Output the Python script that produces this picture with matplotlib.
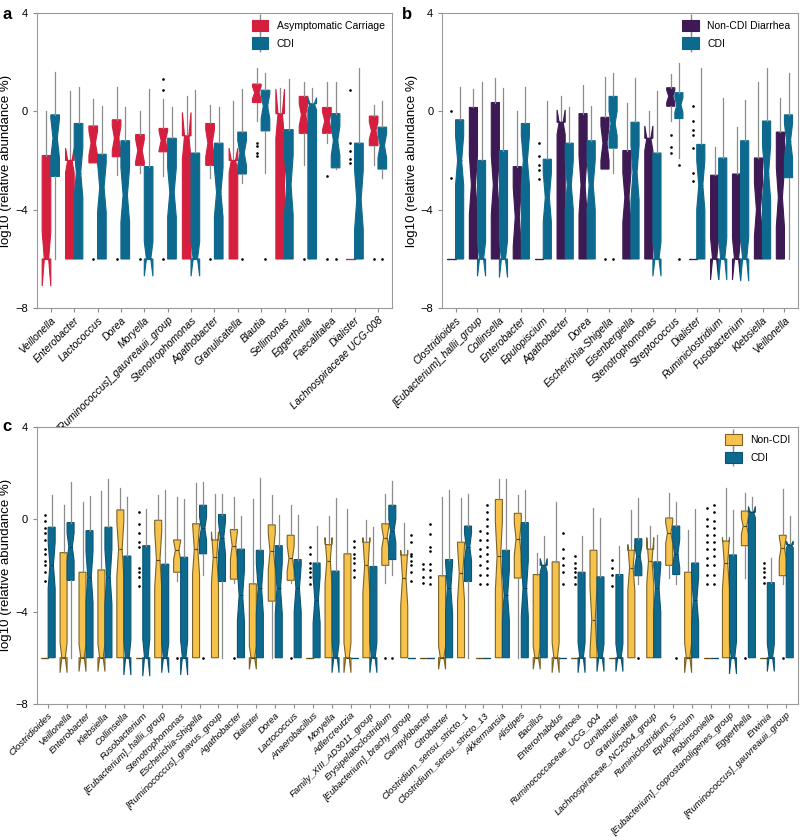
import matplotlib.pyplot as plt
from matplotlib.patches import Patch
from matplotlib.lines import Line2D

plt.rcParams['font.family'] = ['Liberation Sans', 'DejaVu Sans']

# ---------------- panel a: Asymptomatic Carriage vs CDI ----------------
a_taxa = ['Veillonella', 'Enterobacter', 'Lactococcus', 'Dorea', 'Moryella',
          '[Ruminococcus]_gauvreauii_group', 'Stenotrophomonas', 'Agathobacter',
          'Granulicatella', 'Blautia', 'Sellimonas', 'Eggerthella', 'Faecalitalea',
          'Dialister', 'Lachnospiraceae UCG-008']
a_ac_q1 = [-6, -6, -2.1, -1.85, -2.2, -1.65, -6, -2.2, -6, 0.35, -6, -0.9, -0.9, -6, -1.4]
a_ac_med = [-6, -2.0, -1.3, -1.1, -1.6, -1.2, -1.0, -1.3, -2.0, 0.75, -0.1, -0.15, -0.4, -6, -0.8]
a_ac_q3 = [-1.8, -2.0, -0.6, -0.35, -0.95, -0.7, -1.0, -0.5, -2.0, 1.1, -0.1, 0.6, 0.15, -6, -0.2]
a_ac_lo = [-6, -6, -2.1, -2.6, -2.5, -2.65, -6, -2.7, -6, -0.4, -6, -2.2, -1.3, -6, -2.2]
a_ac_hi = [0.0, 0.8, 0.5, 1.0, 0.0, 0.5, 0.6, 0.25, 0.4, 1.75, 0.95, 1.2, 1.2, -6, 0.25]
a_ac_notch = [1.1, 0.5, 0.5, 0.5, 0.45, 0.4, 0.95, 0.55, 0.5, 0.25, 1.0, 0.45, 0.35, 0, 0.35]
a_ac_fliers = [[], [], [-6], [-6], [-6], [1.3, 0.85, -6], [], [-6], [],
               [-1.3, -1.4, -1.7, -1.8], [], [-6], [-2.65, -6],
               [0.85, -1.3, -1.6, -1.95, -2.1], [-6]]

a_cdi_q1 = [-2.65, -6, -6, -6, -6, -6, -6, -6, -2.55, -0.8, -6, -6, -2.3, -6, -2.35]
a_cdi_med = [-1.1, -2.5, -3.1, -3.4, -6, -3.3, -6, -3.3, -1.7, 0.2, -3.0, 0.3, -1.2, -3.6, -1.4]
a_cdi_q3 = [-0.15, -0.5, -1.75, -1.2, -2.25, -1.1, -1.7, -1.3, -0.85, 0.85, -0.75, 0.3, -0.1, -1.3, -0.65]
a_cdi_lo = [-6, -6, -6, -6, -6, -6, -6, -6, -2.9, -2.5, -6, -6, -2.35, -6, -2.7]
a_cdi_hi = [1.6, 1.0, 0.2, 0.15, 0.9, 0.15, 0.85, 0.15, 0.9, 1.55, 1.3, 0.95, 1.2, 1.75, 0.4]
a_cdi_notch = [0.8, 1.0, 1.0, 1.1, 0.7, 1.0, 0.7, 1.0, 0.5, 0.5, 1.2, 0.25, 0.6, 1.2, 0.5]
a_cdi_fliers = [[], [], [], [], [], [], [], [], [-6], [-6], [], [], [-6], [], [-6]]

# ---------------- panel b: Non-CDI Diarrhea vs CDI ----------------
b_taxa = ['Clostridioides', '[Eubacterium]_hallii_group', 'Collinsella', 'Enterobacter',
          'Epulopiscium', 'Agathobacter', 'Dorea', 'Escherichia-Shigella', 'Eisenbergiella',
          'Stenotrophomonas', 'Streptococcus', 'Dialister', 'Ruminiclostridium',
          'Fusobacterium', 'Klebsiella', 'Veillonella']
b_ncd_q1 = [-6, -6, -6, -6, -6, -6, -6, -2.35, -6, -6, 0.2, -6, -6, -6, -6, -6]
b_ncd_med = [-6, -3.0, -3.0, -4.3, -6, -0.45, -3.0, -1.3, -3.5, -1.1, 0.6, -6, -6, -6, -4.0, -3.5]
b_ncd_q3 = [-6, 0.15, 0.35, -2.25, -6, -0.45, -0.1, -0.25, -1.6, -1.1, 0.95, -6, -2.6, -2.55, -1.9, -0.85]
b_ncd_lo = [-6, -6, -6, -6, -6, -6, -6, -2.35, -6, -6, -0.4, -6, -6, -6, -6, -6]
b_ncd_hi = [-6, 0.9, 1.35, 0.0, -6, 0.6, 1.05, 1.4, 0.35, 0.0, 1.5, -6, -1.45, -0.65, 1.2, 0.55]
b_ncd_notch = [0, 1.2, 1.2, 1.2, 0, 0.5, 1.2, 0.7, 1.0, 0.5, 0.25, 0, 0.85, 0.85, 1.1, 1.2]
b_ncd_fliers = [[0.0, -2.7], [], [], [], [-1.3, -1.8, -2.2, -2.4, -2.75], [], [], [-6], [], [],
                [-0.95, -1.45, -1.7], [0.2, -0.4, -0.75, -0.95, -1.5, -2.5, -2.85], [], [], [], []]

b_cdi_q1 = [-6, -6, -6, -6, -6, -6, -6, -1.5, -6, -6, -0.3, -6, -6, -6, -6, -2.7]
b_cdi_med = [-2.0, -6, -6, -2.0, -3.5, -3.0, -3.0, -0.5, -2.5, -6, 0.25, -3.0, -6, -6, -2.5, -1.2]
b_cdi_q3 = [-0.35, -2.0, -1.6, -0.5, -1.95, -1.3, -1.2, 0.6, -0.45, -1.7, 0.75, -1.35, -1.9, -1.2, -0.4, -0.15]
b_cdi_lo = [-6, -6, -6, -6, -6, -6, -6, -2.5, -6, -6, -1.9, -6, -6, -6, -6, -6]
b_cdi_hi = [1.0, 1.2, 0.95, 1.0, 0.4, 0.15, 0.2, 1.55, 1.35, 0.8, 1.95, 1.75, 0.55, 0.45, 1.75, 1.55]
b_cdi_notch = [1.0, 0.7, 0.75, 1.0, 1.0, 1.0, 1.0, 0.5, 1.1, 0.7, 0.3, 1.0, 0.85, 0.9, 1.1, 0.7]
b_cdi_fliers = [[], [], [], [], [], [], [], [-6], [], [], [-2.2, -6], [], [], [], [], []]

# ---------------- panel c: Non-CDI vs CDI ----------------
c_taxa = ['Clostridioides', 'Veillonella', 'Enterobacter', 'Klebsiella', 'Collinsella',
          'Fusobacterium', '[Eubacterium]_hallii_group', 'Stenotrophomonas',
          'Escherichia-Shigella', '[Ruminococcus]_gnavus_group', 'Agathobacter', 'Dialister',
          'Dorea', 'Lactococcus', 'Anaerobacillus', 'Moryella', 'Adlercreutzia',
          'Family_XIII_AD3011_group', 'Erysipelatoclostridium', '[Eubacterium]_brachy_group',
          'Campylobacter', 'Citrobacter', 'Clostridium_sensu_stricto_1',
          'Clostridium_sensu_stricto_13', 'Akkermansia', 'Alistipes', 'Bacillus',
          'Enterorhabdus', 'Pantoea', 'Ruminococcaceae_UCG_004', 'Curvibacter',
          'Granulicatella', 'Lachnospiraceae_NC2004_group', 'Ruminiclostridium_5',
          'Epulopiscium', 'Robinsoniella', '[Eubacterium]_coprostanoligenes_group',
          'Eggerthella', 'Erwinia', '[Ruminococcus]_gauvreauii_group']
c_nc_q1 = [-6, -6, -6, -6, -6, -6, -6, -2.3, -6, -6, -2.6, -6, -3.55, -2.65, -6, -6, -6, -6, -2.0, -6,
           -6, -6, -6, -6, -6, -2.55, -6, -6, -6, -6, -6, -6, -6, -2.0, -6, -6, -6, -1.15, -6, -2.45]
c_nc_med = [-6, -6, -6, -6, -1.3, -6, -1.75, -1.35, -1.3, -1.65, -1.15, -6, -1.4, -1.7, -6, -1.8, -6,
            -2.0, -0.8, -2.55, -6, -6, -2.35, -6, -1.6, -0.85, -6, -6, -6, -4.35, -6, -2.1, -1.8,
            -0.6, -6, -6, -1.9, -0.3, -6, -1.25]
c_nc_q3 = [-6, -1.45, -2.3, -2.2, 0.4, -6, -0.05, -0.9, -0.2, -0.9, -0.45, -2.8, -0.25, -0.7, -6,
           -1.1, -1.5, -1.0, -0.2, -1.55, -6, -2.45, -1.0, -6, 0.85, 0.25, -2.4, -1.85, -6, -1.35,
           -6, -1.35, -1.3, 0.05, -2.3, -6, -0.95, 0.35, -6, -0.7]
c_nc_lo = [-6, -6, -6, -6, -6, -6, -6, -2.7, -6, -6, -2.75, -6, -6, -2.75, -6, -6, -6, -6, -2.75, -6,
           -6, -6, -6, -6, -6, -6, -6, -6, -6, -6, -6, -6, -6, -2.55, -6, -6, -6, -2.55, -6, -2.8]
c_nc_hi = [-6, 0.6, 0.75, 1.2, 1.35, -6, 1.05, 0.95, 1.55, 1.1, 0.95, 0.85, 1.05, 0.6, -6, 0.15, 0.45,
           -0.05, 1.1, -0.15, -6, 0.95, 0.9, -6, 1.75, 1.05, -1.45, 0.75, -6, 0.5, -6, 0.4, -0.3,
           1.15, -0.45, -6, 1.35, 1.15, -6, 1.3]
c_nc_notch = [0, 0.65, 0.6, 0.6, 1.2, 0, 1.2, 0.4, 1.1, 1.1, 0.6, 0.5, 0.8, 0.55, 0, 1.0, 0.65, 1.2,
              0.45, 1.2, 0, 0.5, 1.2, 0, 1.5, 0.7, 0.5, 0.65, 0, 1.4, 0, 1.0, 1.0, 0.45, 0.65, 0,
              1.1, 0.35, 0, 0.5]
c_nc_fliers = [[0.2, -0.1, -0.4, -0.6, -0.9, -1.3, -1.5, -1.8, -2.0, -2.3, -2.7], [], [], [], [],
               [0.3, -0.2, -0.6, -1.0, -1.2, -2.1, -2.3, -2.5, -2.9], [], [-6], [], [], [-6], [], [],
               [-6], [-1.2, -1.5, -1.9, -2.1, -2.3, -2.5, -2.8], [], [], [], [-6], [],
               [-1.95, -2.15, -2.5, -2.75], [], [], [-0.5, -0.9, -1.3, -1.6, -2.0, -2.4, -2.8], [],
               [], [], [], [-1.6, -1.9, -2.1, -2.3, -2.5, -2.8], [], [-1.75, -2.1, -2.4, -2.9], [],
               [], [], [], [0.5, 0.0, -0.3, -0.7, -1.0, -1.3, -1.7, -2.0, -2.4, -2.8], [], [-6],
               [-1.9, -2.1, -2.3, -2.5, -2.75], [-6]]

c_cdi_q1 = [-6, -2.65, -6, -6, -6, -6, -6, -6, -1.5, -2.7, -6, -6, -6, -6, -6, -6, -6, -6, -1.75, -6,
            -6, -6, -2.7, -6, -6, -6, -6, -6, -6, -6, -6, -2.45, -6, -2.4, -6, -6, -6, -6, -6, -6]
c_cdi_med = [-2.0, -1.2, -2.5, -2.5, -6, -6, -6, -6, -0.4, -0.8, -3.3, -3.0, -3.0, -3.0, -3.5, -6, -6,
             -6, -0.5, -6, -6, -3.0, -1.2, -6, -3.3, -3.0, -2.0, -6, -6, -6, -6, -1.6, -3.0, -1.5,
             -3.5, -6, -6, 0.3, -6, -1.1]
c_cdi_q3 = [-0.35, -0.15, -0.5, -0.35, -1.6, -1.15, -1.95, -1.65, 0.6, 0.2, -1.3, -1.35, -1.15,
            -1.75, -1.9, -2.25, -6, -2.05, 0.6, -6, -6, -1.75, -0.3, -6, -1.35, -0.15, -2.0, -6,
            -2.3, -2.5, -2.4, -0.85, -1.85, -0.3, -1.9, -6, -1.55, 0.3, -2.75, -1.1]
c_cdi_lo = [-6, -6, -6, -6, -6, -6, -6, -6, -2.4, -6, -6, -6, -6, -6, -6, -6, -6, -6, -2.4, -6,
            -6, -6, -6, -6, -6, -6, -6, -6, -6, -6, -6, -2.8, -6, -2.8, -6, -6, -6, -6, -6, -6]
c_cdi_hi = [1.05, 1.6, 1.0, 1.75, 0.95, 0.45, 1.25, 0.85, 1.6, 1.1, 0.15, 1.8, 0.2, 0.2, -0.3, 0.9,
            -6, -0.35, 1.65, -6, -6, 1.25, 1.1, -6, 1.75, 1.25, -0.75, -6, -0.75, 0.05, -1.15,
            0.9, -0.7, 0.75, 0.45, -6, 0.4, 0.95, -1.7, 0.15]
c_cdi_notch = [1.0, 0.6, 1.1, 1.2, 0.75, 0.8, 0.65, 0.75, 0.5, 0.7, 1.1, 1.1, 1.1, 1.0, 1.0, 0.65,
               0, 0.65, 0.5, 0, 0, 1.1, 0.6, 0, 1.1, 1.2, 0.3, 0, 0.65, 0.6, 0.6, 0.45, 1.0, 0.6,
               1.0, 0, 0.7, 0.25, 0.6, 0.15]
c_cdi_fliers = [[], [], [], [], [], [], [], [], [-6], [], [], [], [], [], [], [],
                [-0.95, -1.2, -1.5, -1.7, -1.9, -2.2, -2.5], [], [-6],
                [-0.7, -1.0, -1.5, -1.6, -1.8, -2.0, -2.3, -2.7],
                [-0.2, -0.65, -1.2, -1.4, -1.95, -2.2, -2.5, -2.8], [], [],
                [0.6, 0.3, 0.0, -0.3, -0.6, -0.9, -1.2, -1.5, -1.8, -2.1, -2.4, -2.8], [], [], [],
                [-0.6, -1.3, -1.7, -2.0, -2.3, -2.8], [], [], [], [-6], [], [-6], [],
                [0.6, 0.3, -0.1, -0.4, -0.7, -1.0, -1.3, -1.6, -2.0, -2.4, -2.8], [], [], [], []]

RED = '#d41f3f'
BLUE = '#0d6a8e'
PURPLE = '#3d1a53'
YELLOW = '#f7c24b'
GREY = '#8c8c8c'


def make_stats(q1, med, q3, lo, hi, notch, fliers):
    out = []
    for i in range(len(q1)):
        out.append(dict(q1=q1[i], med=med[i], q3=q3[i], whislo=lo[i], whishi=hi[i],
                        cilo=med[i] - notch[i], cihi=med[i] + notch[i], fliers=fliers[i]))
    return out


def draw(ax, st, shift, face, edge, medc):
    pos = [i + 1 + shift for i in range(len(st))]
    ax.bxp(st, positions=pos, widths=0.37, shownotches=True, patch_artist=True,
           showcaps=False, manage_ticks=False,
           boxprops=dict(facecolor=face, edgecolor=edge, linewidth=0.8),
           medianprops=dict(color=medc, linewidth=0.8),
           whiskerprops=dict(color=GREY, linewidth=0.9),
           flierprops=dict(marker='o', markersize=0.9, markerfacecolor='k',
                           markeredgecolor='k', linestyle='none'))


def style(ax, taxa, fs):
    n = len(taxa)
    ax.set_xlim(0.4, n + 0.6)
    ax.set_ylim(-8, 4)
    ax.set_yticks([-8, -4, 0, 4])
    ax.set_xticks(range(1, n + 1))
    ax.set_xticklabels(taxa, rotation=45, ha='right', rotation_mode='anchor',
                       fontstyle='italic', fontsize=fs)
    ax.tick_params(axis='y', labelsize=8, length=3, color=GREY)
    ax.tick_params(axis='x', length=3, color=GREY, pad=2)
    ax.set_ylabel('log10 (relative abundance %)', fontsize=9.5, labelpad=2)
    for s in ax.spines.values():
        s.set_color('#9a9a9a')
        s.set_linewidth(0.8)


def legend(ax, labels, faces, edges, loc='upper right'):
    handles = []
    for f, e in zip(faces, edges):
        handles.append((Line2D([], [], marker='|', markersize=14, color=GREY, linestyle='none'),
                        Patch(facecolor=f, edgecolor=e, linewidth=0.8)))
    ax.legend(handles, labels, loc=loc, frameon=False, fontsize=7.5, handlelength=1.6,
              handleheight=1.3, borderaxespad=0.3, labelspacing=0.6)


fig = plt.figure(figsize=(8, 8.4), dpi=100)

ax_a = fig.add_axes([0.046, 0.633, 0.444, 0.352])
draw(ax_a, make_stats(a_ac_q1, a_ac_med, a_ac_q3, a_ac_lo, a_ac_hi, a_ac_notch, a_ac_fliers),
     -0.185, RED, RED, RED)
draw(ax_a, make_stats(a_cdi_q1, a_cdi_med, a_cdi_q3, a_cdi_lo, a_cdi_hi, a_cdi_notch, a_cdi_fliers),
     0.185, BLUE, BLUE, BLUE)
style(ax_a, a_taxa, 7.5)
legend(ax_a, ['Asymptomatic Carriage', 'CDI'], [RED, BLUE], [RED, BLUE])

ax_b = fig.add_axes([0.553, 0.633, 0.444, 0.352])
draw(ax_b, make_stats(b_ncd_q1, b_ncd_med, b_ncd_q3, b_ncd_lo, b_ncd_hi, b_ncd_notch, b_ncd_fliers),
     -0.185, PURPLE, PURPLE, PURPLE)
draw(ax_b, make_stats(b_cdi_q1, b_cdi_med, b_cdi_q3, b_cdi_lo, b_cdi_hi, b_cdi_notch, b_cdi_fliers),
     0.185, BLUE, BLUE, BLUE)
style(ax_b, b_taxa, 7.5)
legend(ax_b, ['Non-CDI Diarrhea', 'CDI'], [PURPLE, BLUE], [PURPLE, BLUE])

ax_c = fig.add_axes([0.046, 0.162, 0.951, 0.33])
draw(ax_c, make_stats(c_nc_q1, c_nc_med, c_nc_q3, c_nc_lo, c_nc_hi, c_nc_notch, c_nc_fliers),
     -0.185, YELLOW, '#7d6322', '#5a4510')
draw(ax_c, make_stats(c_cdi_q1, c_cdi_med, c_cdi_q3, c_cdi_lo, c_cdi_hi, c_cdi_notch, c_cdi_fliers),
     0.185, BLUE, '#0b5574', '#0b4560')
style(ax_c, c_taxa, 6.8)
legend(ax_c, ['Non-CDI', 'CDI'], [YELLOW, BLUE], ['#7d6322', '#0b5574'])

fig.text(0.003, 0.992, 'a', fontsize=12, fontweight='bold', va='top')
fig.text(0.503, 0.992, 'b', fontsize=12, fontweight='bold', va='top')
fig.text(0.003, 0.501, 'c', fontsize=12, fontweight='bold', va='top')

fig.savefig('out.png', dpi=100)
